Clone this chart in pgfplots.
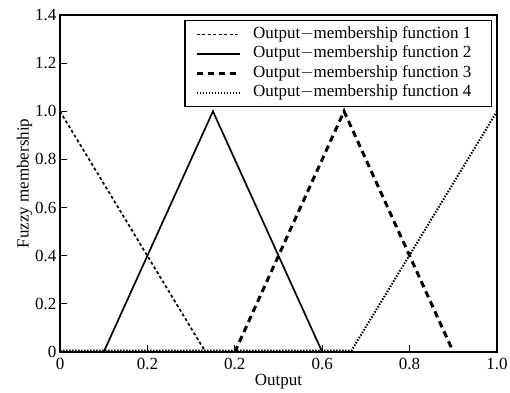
\documentclass[border=0pt]{standalone}
\usepackage{fontspec}
\setmainfont{Liberation Serif}
\usepackage{pgfplots}
\pgfplotsset{compat=1.18}
\begin{document}
\begin{tikzpicture}[font=\fontsize{17}{20}\selectfont]
\path[use as bounding box] (-60pt,-40pt) rectangle (450pt,352pt);
\begin{axis}[
  at={(0,0)}, anchor=south west,
  scale only axis, width=437pt, height=337pt,
  xmin=0, xmax=1, ymin=0, ymax=1.4,
  xtick={0,0.2,0.4,0.6,0.8,1.0},
  xticklabels={0,0.2,0.2,0.6,0.8,1.0},
  ytick={0,0.2,0.4,0.6,0.8,1.0,1.2,1.4},
  yticklabels={0,0.2,0.4,0.6,0.8,1.0,1.2,1.4},
  tick pos=left, tick align=inside,
  major tick length=7pt,
  tick style={line width=1pt, black},
  axis line style={line width=1.4pt},
  ticklabel style={font=\fontsize{17}{20}\selectfont},
  xticklabel style={yshift=-3pt},
  xlabel={Output}, ylabel={Fuzzy membership},
  label style={font=\fontsize{17}{20}\selectfont},
  xlabel style={yshift=3pt},
  ylabel style={yshift=-4pt},
  legend style={at={([xshift=-5pt,yshift=-5pt]1,1)}, anchor=north east,
    draw=black, line width=1.2pt, font=\fontsize{17}{20}\selectfont,
    inner xsep=0pt, inner ysep=6pt, row sep=3.3pt, column sep=0pt,
    nodes={inner xsep=0pt, inner ysep=0pt, text height=12pt, text depth=4pt}},
  legend cell align=left,
  legend image code/.code={\path (-10pt,0pt) (55pt,0pt); \draw[#1] (0pt,0pt) -- (43pt,0pt);},
]
\addplot[black, line width=1.7pt, dash pattern=on 3pt off 2.5pt] coordinates {(0,1) (0.333,0)};
\addlegendentry{Output$-$membership function 1\hspace*{20pt}}
\addplot[black, line width=1.7pt] coordinates {(0,0) (0.1,0) (0.35,1) (0.6,0)};
\addlegendentry{Output$-$membership function 2\hspace*{20pt}}
\addplot[black, line width=3pt, dash pattern=on 6.5pt off 4.5pt] coordinates {(0.4,0) (0.65,1) (0.9,0)};
\addlegendentry{Output$-$membership function 3\hspace*{20pt}}
\addplot[black, line width=2pt, dash pattern=on 1.5pt off 1.5pt] coordinates {(0,0.006) (0.667,0.006) (1,1)};
\addlegendentry{Output$-$membership function 4\hspace*{20pt}}
\end{axis}
\end{tikzpicture}
\end{document}
